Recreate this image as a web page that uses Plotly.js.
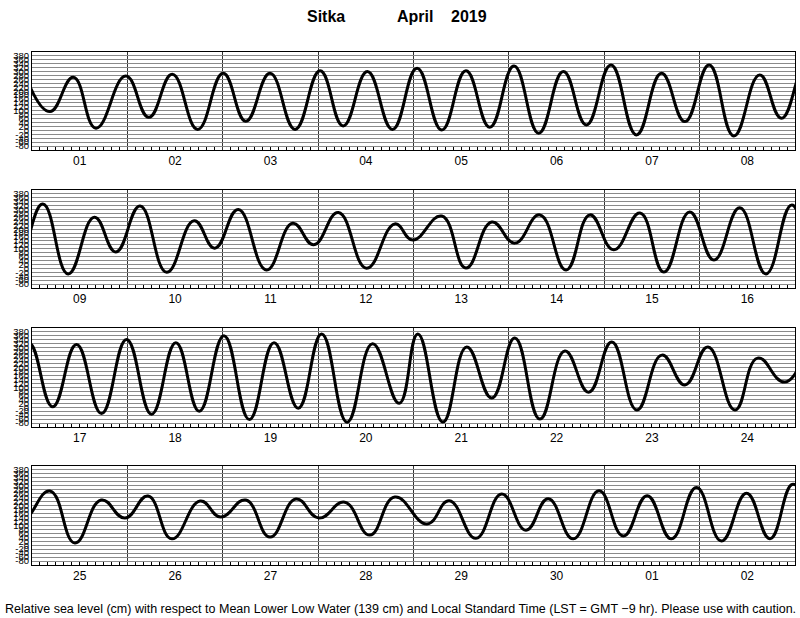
<!DOCTYPE html>
<html>
<head>
<meta charset="utf-8">
<script src="https://cdn.plot.ly/plotly-3.0.1.min.js"></script>
<style>html,body{margin:0;padding:0;background:#fff}#chart{width:800px;height:618px}</style>
</head>
<body>
<div id="chart"></div>
<script>
// High / low water times (LST) and heights (cm above MLLW)
const tideTime = [
'2019-03-31 22:30','2019-04-01 04:30','2019-04-01 10:24','2019-04-01 16:06','2019-04-01 23:36',
'2019-04-02 05:24','2019-04-02 11:18','2019-04-02 17:42','2019-04-03 00:06','2019-04-03 05:48',
'2019-04-03 11:54','2019-04-03 18:12','2019-04-04 00:30','2019-04-04 06:18','2019-04-04 12:24',
'2019-04-04 18:42','2019-04-05 00:54','2019-04-05 07:06','2019-04-05 13:12','2019-04-05 19:12',
'2019-04-06 01:18','2019-04-06 07:30','2019-04-06 13:42','2019-04-06 19:30','2019-04-07 01:42',
'2019-04-07 08:06','2019-04-07 14:24','2019-04-07 20:18','2019-04-08 02:24','2019-04-08 08:36',
'2019-04-08 15:06','2019-04-08 20:36','2019-04-09 02:42','2019-04-09 09:06','2019-04-09 15:42',
'2019-04-09 21:06','2019-04-10 03:12','2019-04-10 09:54','2019-04-10 16:48','2019-04-10 22:00',
'2019-04-11 03:54','2019-04-11 11:00','2019-04-11 17:36','2019-04-11 22:54','2019-04-12 05:06',
'2019-04-12 12:12','2019-04-12 19:18','2019-04-12 23:50','2019-04-13 07:06','2019-04-13 13:12',
'2019-04-13 19:42','2019-04-14 01:30','2019-04-14 07:48','2019-04-14 14:24','2019-04-14 20:24',
'2019-04-15 02:24','2019-04-15 09:00','2019-04-15 15:00','2019-04-15 21:30','2019-04-16 03:36',
'2019-04-16 10:06','2019-04-16 16:42','2019-04-16 23:12','2019-04-17 05:12','2019-04-17 11:12',
'2019-04-17 17:30','2019-04-17 23:48','2019-04-18 06:06','2019-04-18 12:12','2019-04-18 18:06',
'2019-04-19 00:18','2019-04-19 06:42','2019-04-19 12:54','2019-04-19 19:00','2019-04-20 00:54',
'2019-04-20 07:18','2019-04-20 13:42','2019-04-20 20:24','2019-04-21 01:06','2019-04-21 07:24',
'2019-04-21 13:24','2019-04-21 19:42','2019-04-22 01:30','2019-04-22 07:48','2019-04-22 14:06',
'2019-04-22 20:06','2019-04-23 01:54','2019-04-23 08:12','2019-04-23 14:30','2019-04-23 20:18',
'2019-04-24 02:06','2019-04-24 08:54','2019-04-24 14:36','2019-04-24 21:24','2019-04-25 04:30',
'2019-04-25 10:48','2019-04-25 17:24','2019-04-25 23:24','2019-04-26 05:12','2019-04-26 11:12',
'2019-04-26 18:18','2019-04-26 23:30','2019-04-27 05:48','2019-04-27 11:54','2019-04-27 18:24',
'2019-04-28 00:12','2019-04-28 06:42','2019-04-28 13:00','2019-04-28 19:18','2019-04-29 03:24',
'2019-04-29 09:00','2019-04-29 15:42','2019-04-29 22:12','2019-04-30 04:18','2019-04-30 09:54',
'2019-04-30 16:12','2019-04-30 22:42','2019-05-01 04:48','2019-05-01 10:48','2019-05-01 16:54',
'2019-05-01 23:12','2019-05-02 05:30','2019-05-02 11:48','2019-05-02 17:42','2019-05-02 23:30',
'2019-05-03 06:00'
];
const tideLevel = [
272, 96, 271, 11, 277,
67, 286, 5, 291, 47,
291, 5, 304, 23, 300,
5, 317, 2, 304, 16,
328, -14, 300, 28, 334,
-23, 291, 45, 334, -28,
283, 62, 328, -28, 261,
84, 318, -20, 243, 103,
301, -8, 230, 121, 285,
1, 227, 145, 267, 2,
237, 129, 273, -8, 273,
95, 283, -19, 288, 43,
309, -28, 324, 2, 317,
-32, 342, -35, 326, -20,
361, -62, 326, -5, 370,
-76, 320, 20, 370, -75,
304, 46, 349, -60, 284,
76, 329, -14, 263, 112,
304, -14, 248, 127, 274,
11, 228, 137, 248, 32,
223, 142, 228, 41, 233,
137, 217, 51, 243, 107,
225, 35, 259, 76, 235,
32, 275, 46, 250, 32,
292, 21, 262, 33, 308,
9
];
// Panel (8-day strip) start/end dates
const panelStart = ['2019-04-01', '2019-04-09', '2019-04-17', '2019-04-25'];
const panelEnd   = ['2019-04-09', '2019-04-17', '2019-04-25', '2019-05-03'];
// Y tick labels (cm)
const yTicks = [-80,-60,-40,-20,0,20,40,60,80,100,120,140,160,180,200,220,240,260,280,300,320,340,360,380];

const titleParts = ['Sitka', 'April', '2019'];
const footer = 'Relative sea level (cm) with respect to Mean Lower Low Water (139 cm) and Local Standard Time (LST = GMT \u22129 hr). Please use with caution.';

const W = 800, H = 618;
const panelPx = [[52,150],[190,288],[328,427],[466,565]];
const xDom = [32/W, 795/W];

const traces = [];
const layout = {
  width: W, height: H,
  margin: {l:0, r:0, t:0, b:0},
  paper_bgcolor: '#fff', plot_bgcolor: '#fff',
  showlegend: false,
  font: {family: 'Liberation Sans, Arial, sans-serif', color: '#000'},
  annotations: []
};

panelStart.forEach((s, i) => {
  const n = i === 0 ? '' : String(i + 1);
  traces.push({
    x: tideTime, y: tideLevel, type: 'scatter', mode: 'lines',
    line: {color: '#000', width: 3, shape: 'spline', smoothing: 1.3},
    xaxis: 'x' + n, yaxis: 'y' + n, hoverinfo: 'skip', cliponaxis: true
  });
  const [top, bot] = panelPx[i];
  layout['xaxis' + n] = {
    type: 'date', domain: xDom, anchor: 'y' + n,
    range: [s, panelEnd[i]],
    tick0: s, dtick: 86400000, tickformat: '%d', ticklabelmode: 'period',
    ticks: '', showgrid: true, gridcolor: '#333', gridwidth: 1,
    showline: true, mirror: true, linecolor: '#000', linewidth: 1,
    tickfont: {size: 12, family: 'Liberation Sans, Arial, sans-serif', color: '#000'},
    minor: {dtick: 7200000, tick0: s, ticks: 'inside', ticklen: 3, tickcolor: '#000', tickwidth: 1, showgrid: false},
    zeroline: false, fixedrange: true
  };
  layout['yaxis' + n] = {
    domain: [1 - bot / H, 1 - top / H], anchor: 'x' + n,
    range: [-100, 400], tickmode: 'array', tickvals: yTicks, ticktext: yTicks.map(String),
    ticks: '', showgrid: true, gridcolor: '#8a8a8a', gridwidth: 1,
    showline: true, mirror: true, linecolor: '#000', linewidth: 1,
    tickfont: {size: 9.5, family: 'Liberation Sans, Arial, sans-serif', color: '#000'},
    zeroline: false, fixedrange: true
  };
});

const titleX = [326, 415, 469];
titleParts.forEach((t, i) => {
  layout.annotations.push({
    text: '<b>' + t + '</b>', xref: 'paper', yref: 'paper',
    x: titleX[i] / W, y: 1 - 16 / H, xanchor: 'center', yanchor: 'middle', showarrow: false,
    font: {size: 16, family: 'Liberation Sans Narrow, Liberation Sans, Arial, sans-serif', color: '#000'}
  });
});
layout.annotations.push({
  text: footer, xref: 'paper', yref: 'paper', x: 0.5, y: 1 - 609 / H,
  xanchor: 'center', yanchor: 'middle', showarrow: false,
  font: {size: 12.5, family: 'Liberation Sans, Arial, sans-serif', color: '#000'}
});

Plotly.newPlot('chart', traces, layout, {staticPlot: true});
</script>
</body>
</html>
